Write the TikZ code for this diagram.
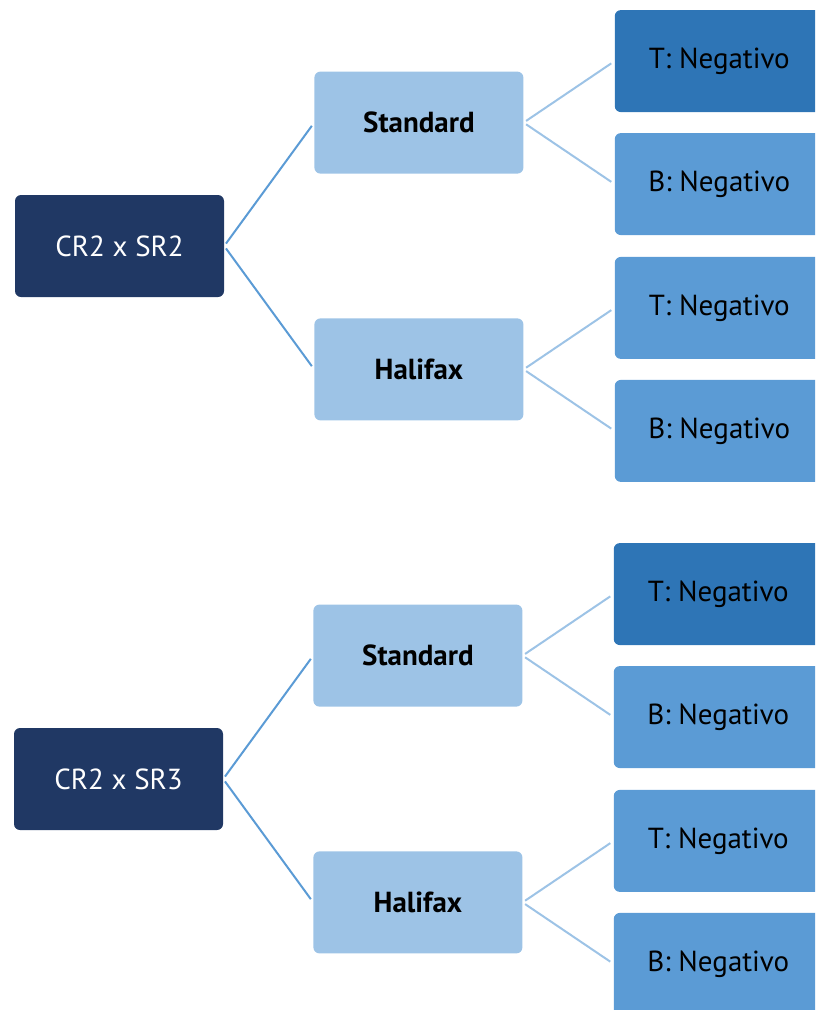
\documentclass[tikz,border=0pt]{standalone}
\usepackage{fontspec}
\setmainfont{PT Sans}
\usetikzlibrary{positioning}
\definecolor{navy}{HTML}{203864}
\definecolor{pale}{HTML}{9DC3E6}
\definecolor{deep}{HTML}{2E75B6}
\definecolor{soft}{HTML}{5B9BD5}

\begin{document}
\begin{tikzpicture}[node distance=21pt and 90pt,every node/.append style={align=center,rounded corners=6pt,minimum width=209pt,minimum height=102pt,inner sep=0pt,font=\fontsize{29}{34}\selectfont},grp/.style={fill=navy,text=white},sub/.style={fill=pale,font=\fontsize{29}{34}\selectfont\bfseries},res/.style={fill=soft},resd/.style={fill=deep},lnk/.style={draw=soft,line width=2pt,shorten <=3pt,shorten >=4pt},lnkb/.style={draw=pale,line width=2pt,shorten <=3pt,shorten >=4pt}]
        \clip (0,0) rectangle (815pt,-1010pt);

        \node [grp] (C1) at (119.5pt,-246pt) {CR2 x SR2};
        \node [sub, above right=of C1] (S1) {Standard};
        \node [sub, below right=of C1] (H1) {Halifax};
        \node [resd, right=91pt of S1, yshift=61.5pt] (S1T) {T: Negativo};
        \node [res, right=91pt of S1, yshift=-61.5pt] (S1B) {B: Negativo};
        \node [res, right=91pt of H1, yshift=61.5pt] (H1T) {T: Negativo};
        \node [res, right=91pt of H1, yshift=-61.5pt] (H1B) {B: Negativo};

        \node [grp] (C2) at (118.5pt,-779pt) {CR2 x SR3};
        \node [sub, above right=of C2] (S2) {Standard};
        \node [sub, below right=of C2] (H2) {Halifax};
        \node [resd, right=91pt of S2, yshift=61.5pt] (S2T) {T: Negativo};
        \node [res, right=91pt of S2, yshift=-61.5pt] (S2B) {B: Negativo};
        \node [res, right=91pt of H2, yshift=61.5pt] (H2T) {T: Negativo};
        \node [res, right=91pt of H2, yshift=-61.5pt] (H2B) {B: Negativo};

        \path[lnk] (C1.east) edge (S1.west) (C1.east) edge (H1.west);
        \path[lnk] (C2.east) edge (S2.west) (C2.east) edge (H2.west);
        \path[lnkb] (S1.east) edge (S1T.west) (S1.east) edge (S1B.west);
        \path[lnkb] (H1.east) edge (H1T.west) (H1.east) edge (H1B.west);
        \path[lnkb] (S2.east) edge (S2T.west) (S2.east) edge (S2B.west);
        \path[lnkb] (H2.east) edge (H2T.west) (H2.east) edge (H2B.west);
    \end{tikzpicture}
\end{document}
